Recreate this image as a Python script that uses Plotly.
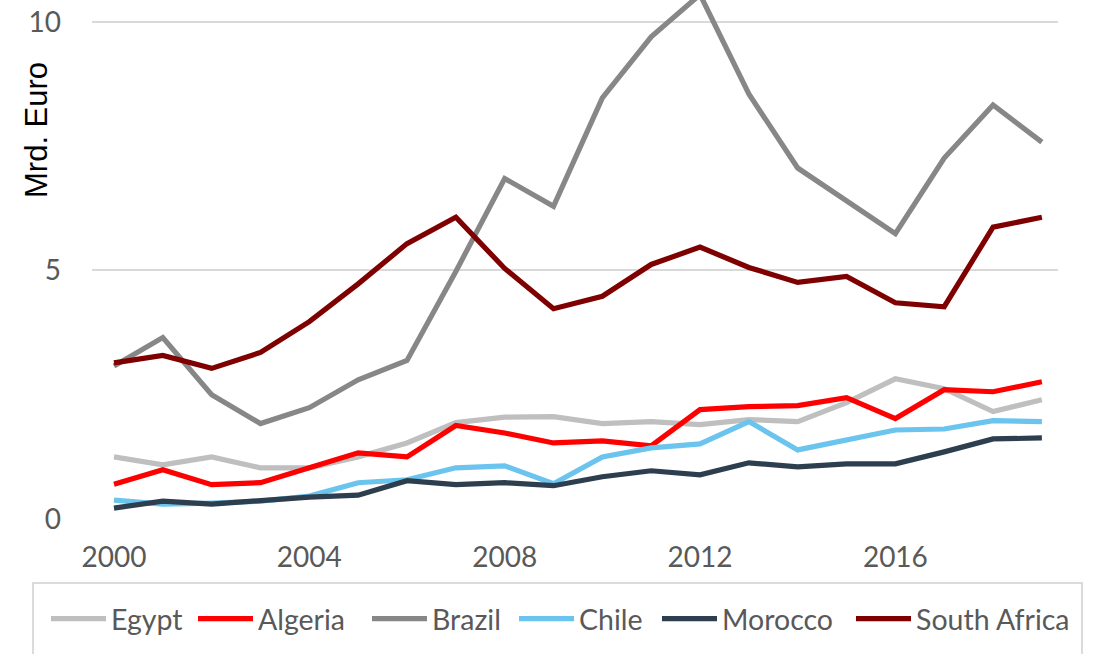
import plotly.graph_objects as go

years = list(range(2000, 2020))
egypt = [1.25, 1.09, 1.25, 1.03, 1.03, 1.25, 1.53, 1.94, 2.05, 2.06, 1.92, 1.96, 1.90, 2.00, 1.96, 2.34, 2.82, 2.62, 2.16, 2.40]
algeria = [0.70, 0.99, 0.69, 0.73, 1.03, 1.33, 1.25, 1.88, 1.73, 1.53, 1.57, 1.47, 2.20, 2.26, 2.28, 2.44, 2.02, 2.60, 2.56, 2.76]
brazil = [3.08, 3.65, 2.50, 1.92, 2.24, 2.80, 3.19, 4.98, 6.85, 6.29, 8.47, 9.70, 10.55, 8.55, 7.06, 6.39, 5.74, 7.26, 8.33, 7.58]
chile = [0.38, 0.30, 0.32, 0.36, 0.46, 0.73, 0.79, 1.03, 1.07, 0.71, 1.25, 1.43, 1.51, 1.96, 1.39, 1.59, 1.79, 1.81, 1.98, 1.96]
morocco = [0.22, 0.36, 0.30, 0.38, 0.44, 0.48, 0.77, 0.69, 0.73, 0.67, 0.85, 0.97, 0.89, 1.13, 1.05, 1.11, 1.11, 1.35, 1.61, 1.63]
south_africa = [3.14, 3.29, 3.03, 3.35, 3.97, 4.73, 5.54, 6.07, 5.04, 4.23, 4.48, 5.12, 5.47, 5.06, 4.76, 4.88, 4.35, 4.27, 5.87, 6.07]

names = ["Egypt", "Algeria", "Brazil", "Chile", "Morocco", "South Africa"]
values = [egypt, algeria, brazil, chile, morocco, south_africa]
colors = ["#BFBFBF", "#FF0000", "#878787", "#6BC4EE", "#2D3E4F", "#7F0000"]
legend_widths = [77, 104, 77, 73, 124, 160]

fig = go.Figure()
for name, vals, color, lw in zip(names, values, colors, legend_widths):
    fig.add_trace(go.Scatter(x=years, y=vals, mode="lines", name=name,
                             legendwidth=lw,
                             line=dict(color=color, width=5.2)))

W, H = 1094, 654
L, R, T, B = 92, 36, 0, 135
pw = W - L - R
ph = H - T - B

# legend frame (decoration, bottom edge cut off as in the reference)
fig.add_shape(type="rect", xref="paper", yref="paper",
              x0=(33 - L) / pw, x1=(1082 - L) / pw,
              y0=-(583 - ph) / ph, y1=-(680 - ph) / ph,
              line=dict(color="#D0D0D0", width=1.5), fillcolor="rgba(0,0,0,0)")

# y-axis title placed as in the reference (above centre)
fig.add_annotation(text="Mrd. Euro", xref="paper", yref="paper",
                   x=(36 - L) / pw, y=1 - 130 / ph, textangle=-90,
                   showarrow=False, xanchor="center", yanchor="middle",
                   font=dict(family="Liberation Sans, Arial", size=31, color="black"))

fig.update_layout(
    width=W, height=H,
    margin=dict(l=L, r=R, t=T, b=B, autoexpand=False),
    plot_bgcolor="white", paper_bgcolor="white",
    showlegend=True,
    legend=dict(orientation="h", xref="paper", yref="paper",
                x=(46 - L) / pw, xanchor="left", y=-(619 - ph) / ph, yanchor="middle",
                font=dict(family="Lato", size=28.5, color="#595959"),
                bgcolor="rgba(0,0,0,0)", itemwidth=55, tracegroupgap=0),
    xaxis=dict(range=[1999.55, 2019.33], tick0=2000, dtick=4, showgrid=False,
               zeroline=False, showline=False, ticks="", automargin=False,
               tickfont=dict(family="Lato", size=28, color="#595959"),
               ticklabelstandoff=19),
    yaxis=dict(range=[0, 10.44], tickvals=[0, 5, 10], showgrid=True,
               gridcolor="#D9D9D9", gridwidth=1.5, zeroline=False, showline=False,
               ticks="", automargin=False,
               tickfont=dict(family="Lato", size=28, color="#595959"),
               ticklabelstandoff=30),
)

fig.write_html("out.html", config={"displayModeBar": False},
               post_script="document.body.style.margin='0';document.body.style.overflow='hidden';")
